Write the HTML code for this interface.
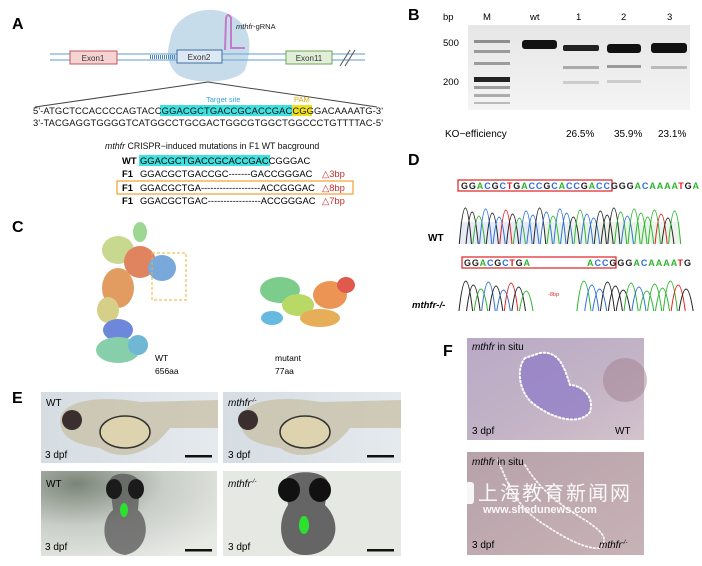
<!DOCTYPE html>
<html><head><meta charset="utf-8"><style>
html,body{margin:0;padding:0;background:#fff;}
svg{display:block;font-family:"Liberation Sans",Arial,sans-serif;}
</style></head><body>
<svg id="s" width="702" height="566" viewBox="0 0 702 566" xmlns="http://www.w3.org/2000/svg">
<defs>
<linearGradient id="gel" x1="0" y1="0" x2="0" y2="1"><stop offset="0" stop-color="#e6e6e6"/><stop offset="1" stop-color="#f4f4f4"/></linearGradient>
<linearGradient id="fish" x1="0" y1="0" x2="1" y2="0"><stop offset="0" stop-color="#d5dde3"/><stop offset="1" stop-color="#e5eaee"/></linearGradient>
<radialGradient id="dark" cx="0.2" cy="0.15" r="1"><stop offset="0" stop-color="#7a8577"/><stop offset="0.5" stop-color="#c9cec8"/><stop offset="1" stop-color="#e8eae6"/></radialGradient>
<linearGradient id="ish1" x1="0" y1="0" x2="1" y2="1"><stop offset="0" stop-color="#b9a9c6"/><stop offset="0.6" stop-color="#c4b4c6"/><stop offset="1" stop-color="#d3c3cb"/></linearGradient>
<linearGradient id="ish2" x1="0" y1="0" x2="1" y2="1"><stop offset="0" stop-color="#b8a2aa"/><stop offset="1" stop-color="#c7b2b7"/></linearGradient>
</defs>

<!-- Panel A -->
<text x="12" y="29" font-size="16" font-weight="bold">A</text>
<path d="M170 40 C175 10 215 2 235 18 C255 30 250 55 245 70 C235 85 185 85 175 72 C165 60 168 50 170 40Z" fill="#c6dcea"/>
<line x1="50" y1="54" x2="365" y2="54" stroke="#7fb0d6" stroke-width="1.3"/>
<line x1="50" y1="60" x2="365" y2="60" stroke="#7fb0d6" stroke-width="1.3"/>
<line x1="150" y1="57" x2="175" y2="57" stroke="#4a86c0" stroke-width="4" stroke-dasharray="1 1"/>
<rect x="70" y="51" width="47" height="13" fill="#f6d3d3" stroke="#c75656"/>
<text x="93" y="61" font-size="8" text-anchor="middle" fill="#333">Exon1</text>
<rect x="177" y="50" width="45" height="13" fill="#dde8f4" stroke="#3d6fa3"/>
<text x="199" y="60" font-size="8" text-anchor="middle" fill="#333">Exon2</text>
<rect x="286" y="51" width="46" height="13" fill="#e1efd9" stroke="#6ea650"/>
<text x="309" y="61" font-size="8" text-anchor="middle" fill="#333">Exon11</text>
<path d="M225 50 L226 18 Q228 12 231 18 L231 48 L245 48" fill="none" stroke="#c57ac8" stroke-width="2"/>
<text x="236" y="29" font-size="7.5" fill="#222"><tspan font-style="italic">mthfr</tspan>-gRNA</text>
<line x1="340" y1="66" x2="350" y2="50" stroke="#555"/><line x1="345" y1="66" x2="355" y2="50" stroke="#555"/>
<line x1="208" y1="82" x2="35" y2="107" stroke="#444"/><line x1="208" y1="82" x2="377" y2="107" stroke="#444"/>
<text x="206" y="102" font-size="7.5" fill="#3aa6d8">Target site</text>
<text x="294" y="102" font-size="7.5" fill="#e0a800">PAM</text>
<rect x="160" y="105" width="133" height="11" fill="#3ee0e0"/>
<rect x="292" y="105" width="20" height="11" fill="#f0e020"/>
<text x="33" y="114" font-size="9.4" fill="#111" textLength="350">5'-ATGCTCCACCCCAGTACCGGACGCTGACCGCACCGACCGGGACAAAATG-3'</text>
<text x="33" y="126" font-size="9.4" fill="#111" textLength="350">3'-TACGAGGTGGGGTCATGGCCTGCGACTGGCGTGGCTGGCCCTGTTTTAC-5'</text>
<text x="105" y="149" font-size="8.8" fill="#111"><tspan font-style="italic">mthfr</tspan> CRISPR−induced mutations in F1 WT bacground</text>
<rect x="139" y="155" width="131" height="11" fill="#3ee0e0"/>
<text x="122" y="164" font-size="9.4" font-weight="bold">WT</text>
<text x="140" y="164" font-size="9.4">GGACGCTGACCGCACCGACCGGGAC</text>
<text x="122" y="177" font-size="9.4" font-weight="bold">F1</text><text x="140" y="177" font-size="9.4">GGACGCTGACCGC-------GACCGGGAC</text><text x="322" y="177" font-size="9.4" fill="#c83030">△3bp</text>
<rect x="117" y="181" width="236" height="13" fill="none" stroke="#f0a030" stroke-width="1.2"/>
<text x="122" y="191" font-size="9.4" font-weight="bold">F1</text><text x="140" y="191" font-size="9.4">GGACGCTGA-------------------ACCGGGAC</text><text x="322" y="191" font-size="9.4" fill="#c83030">△8bp</text>
<text x="122" y="204" font-size="9.4" font-weight="bold">F1</text><text x="140" y="204" font-size="9.4">GGACGCTGAC-----------------ACCGGGAC</text><text x="322" y="204" font-size="9.4" fill="#c83030">△7bp</text>

<!-- Panel B -->
<text x="408" y="20" font-size="16" font-weight="bold">B</text>
<text x="443" y="20" font-size="9.5">bp</text>
<text x="483" y="20" font-size="9.5">M</text>
<text x="530" y="20" font-size="9.5">wt</text>
<text x="576" y="20" font-size="9.5">1</text>
<text x="621" y="20" font-size="9.5">2</text>
<text x="667" y="20" font-size="9.5">3</text>
<rect x="468" y="25" width="222" height="85" fill="url(#gel)"/>
<text x="443" y="46" font-size="9.5">500</text>
<text x="443" y="85" font-size="9.5">200</text>
<g fill="#666">
<rect x="474" y="40" width="36" height="3" opacity=".7"/><rect x="474" y="50" width="36" height="3" opacity=".6"/><rect x="474" y="62" width="36" height="3" opacity=".6"/><rect x="474" y="77" width="36" height="5" fill="#222"/><rect x="474" y="86" width="36" height="3" opacity=".6"/><rect x="474" y="94" width="36" height="3" opacity=".5"/><rect x="474" y="102" width="36" height="2" opacity=".4"/>
</g>
<rect x="522" y="40" width="35" height="9" rx="3" fill="#111"/>
<rect x="563" y="45" width="36" height="6" rx="2" fill="#222"/><rect x="563" y="66" width="36" height="3" fill="#aaa"/><rect x="563" y="81" width="36" height="3" fill="#ccc"/>
<rect x="607" y="44" width="34" height="9" rx="3" fill="#111"/><rect x="607" y="65" width="34" height="3" fill="#999"/><rect x="607" y="80" width="34" height="3" fill="#ccc"/>
<rect x="651" y="43" width="36" height="10" rx="3" fill="#111"/><rect x="651" y="66" width="36" height="3" fill="#bbb"/>
<text x="445" y="137" font-size="10">KO−efficiency</text>
<text x="566" y="137" font-size="10">26.5%</text><text x="614" y="137" font-size="10">35.9%</text><text x="658" y="137" font-size="10">23.1%</text>

<!-- Panel D -->
<text x="408" y="165" font-size="16" font-weight="bold">D</text>
<rect x="458" y="180" width="154" height="11" fill="none" stroke="#e02020" stroke-width="1.2"/>
<text id="seq1" x="461" y="189" font-size="9" font-weight="bold" textLength="238" lengthAdjust="spacing"></text>
<rect x="462" y="257" width="154" height="11" fill="none" stroke="#e02020" stroke-width="1.2"/>
<text id="seq2a" x="464" y="266" font-size="9" font-weight="bold" textLength="66" lengthAdjust="spacing"></text>
<text id="seq2b" x="587" y="266" font-size="9" font-weight="bold" textLength="104" lengthAdjust="spacing"></text>
<rect x="460" y="222" width="80" height="22" fill="#d0d8f0" opacity=".5"/>
<rect x="545" y="222" width="135" height="22" fill="#d8e8d8" opacity=".5"/>
<g id="chrom"></g>
<text x="428" y="241" font-size="10" font-weight="bold">WT</text>
<text x="412" y="308" font-size="9.5" font-weight="bold" font-style="italic">mthfr-/-</text>
<text x="548" y="296" font-size="5.5" fill="#e03030">-8bp</text>

<!-- Panel C -->
<text x="12" y="232" font-size="16" font-weight="bold">C</text>
<g opacity=".75">
<ellipse cx="140" cy="232" rx="7" ry="10" fill="#7ccc70"/>
<ellipse cx="118" cy="250" rx="16" ry="14" fill="#b7cc6a"/>
<ellipse cx="140" cy="262" rx="16" ry="16" fill="#d65a2a"/>
<ellipse cx="162" cy="268" rx="14" ry="13" fill="#4d8bd0"/>
<ellipse cx="118" cy="288" rx="16" ry="20" fill="#d97b2e"/>
<ellipse cx="108" cy="310" rx="11" ry="13" fill="#c8c060"/>
<ellipse cx="118" cy="330" rx="15" ry="11" fill="#3d5fd0"/>
<ellipse cx="118" cy="350" rx="22" ry="13" fill="#5fc090"/>
<ellipse cx="138" cy="345" rx="10" ry="10" fill="#40a0c8"/>
</g>
<rect x="152" y="253" width="34" height="47" fill="none" stroke="#f0b030" stroke-dasharray="3 2"/>
<text x="155" y="361" font-size="8.5">WT</text><text x="155" y="374" font-size="8.5">656aa</text>
<g opacity=".8">
<ellipse cx="280" cy="290" rx="20" ry="13" fill="#5cc070"/>
<ellipse cx="298" cy="305" rx="16" ry="11" fill="#a8d040"/>
<ellipse cx="330" cy="295" rx="17" ry="14" fill="#e87a2a"/>
<ellipse cx="346" cy="285" rx="9" ry="8" fill="#d83020"/>
<ellipse cx="320" cy="318" rx="20" ry="9" fill="#e09a30"/>
<ellipse cx="272" cy="318" rx="11" ry="7" fill="#40a8d8"/>
</g>
<text x="275" y="361" font-size="8.5">mutant</text><text x="275" y="374" font-size="8.5">77aa</text>

<!-- Panel E -->
<text x="12" y="403" font-size="16" font-weight="bold">E</text>
<rect x="41" y="392" width="177" height="71" fill="url(#fish)"/>
<path d="M60 420 C62 400 100 395 140 402 L218 400 L218 428 L170 428 C150 455 120 462 100 448 C80 445 60 440 60 420Z" fill="#c9c2aa" opacity=".8"/>
<ellipse cx="125" cy="432" rx="25" ry="16" fill="#ddd3ae" stroke="#333" stroke-width="1.5"/>
<circle cx="72" cy="420" r="10" fill="#3a2e2e"/>
<text x="46" y="406" font-size="10">WT</text><text x="45" y="458" font-size="10">3 dpf</text>
<rect x="185" y="455" width="27" height="2.5" fill="#111"/>
<rect x="223" y="392" width="178" height="71" fill="url(#fish)"/>
<path d="M240 420 C242 400 280 395 320 402 L401 400 L401 428 L350 428 C330 455 300 462 280 448 C260 445 240 440 240 420Z" fill="#c9c2aa" opacity=".8"/>
<ellipse cx="305" cy="432" rx="25" ry="16" fill="#ddd3ae" stroke="#333" stroke-width="1.5"/>
<circle cx="248" cy="420" r="10" fill="#3a2e2e"/>
<text x="228" y="406" font-size="10" font-style="italic">mthfr<tspan font-size="6" dy="-4">-/-</tspan></text><text x="228" y="458" font-size="10">3 dpf</text>
<rect x="367" y="455" width="27" height="2.5" fill="#111"/>
<rect x="41" y="471" width="176" height="85" fill="url(#dark)"/>
<path d="M110 485 C105 470 140 470 140 485 L138 510 C150 520 150 550 125 555 C100 552 100 520 113 510Z" fill="#555" opacity=".75"/>
<ellipse cx="114" cy="489" rx="8" ry="10" fill="#1b1b1b"/><ellipse cx="136" cy="489" rx="8" ry="10" fill="#1b1b1b"/>
<ellipse cx="124" cy="510" rx="4" ry="7" fill="#2ee02e"/>
<text x="46" y="487" font-size="10">WT</text><text x="45" y="550" font-size="10">3 dpf</text>
<rect x="185" y="549" width="27" height="2.5" fill="#111"/>
<rect x="223" y="471" width="178" height="85" fill="#e6e8e4"/>
<path d="M285 485 C280 468 330 468 328 485 L325 505 C345 525 335 555 305 555 C280 555 275 525 288 505Z" fill="#444" opacity=".8"/>
<ellipse cx="289" cy="490" rx="11" ry="12" fill="#111"/><ellipse cx="320" cy="490" rx="11" ry="12" fill="#111"/>
<ellipse cx="304" cy="525" rx="5" ry="9" fill="#2ee02e"/>
<text x="228" y="487" font-size="10" font-style="italic">mthfr<tspan font-size="6" dy="-4">-/-</tspan></text><text x="228" y="550" font-size="10">3 dpf</text>
<rect x="367" y="549" width="27" height="2.5" fill="#111"/>

<!-- Panel F -->
<text x="443" y="356" font-size="16" font-weight="bold">F</text>
<rect x="467" y="338" width="177" height="102" fill="url(#ish1)"/>
<ellipse cx="625" cy="380" rx="22" ry="22" fill="#a08090" opacity=".5"/>
<path d="M525 358 C515 370 520 395 535 405 C555 420 580 425 590 412 C595 395 580 385 570 385 C565 370 560 350 540 353Z" fill="#8b78c8" opacity=".7"/>
<path d="M525 358 C515 370 520 395 535 405 C555 420 580 425 590 412 C595 395 580 385 570 385 C565 370 560 350 540 353Z" fill="none" stroke="#fff" stroke-width="2" stroke-dasharray="1.5 2.5" stroke-linecap="round"/>
<text x="472" y="350" font-size="10"><tspan font-style="italic">mthfr</tspan> in situ</text>
<text x="472" y="434" font-size="10">3 dpf</text><text x="615" y="434" font-size="10">WT</text>
<rect x="467" y="452" width="177" height="103" fill="url(#ish2)"/>
<path d="M498 460 C510 490 520 510 545 525 C560 535 585 550 600 548 M525 465 C540 490 560 505 585 520 C600 530 610 538 600 548" fill="none" stroke="#fff" stroke-width="1.8" stroke-dasharray="1.5 2.5" stroke-linecap="round" opacity=".85"/>
<text x="472" y="465" font-size="10"><tspan font-style="italic">mthfr</tspan> in situ</text>
<text x="472" y="548" font-size="10">3 dpf</text><text x="599" y="548" font-size="10" font-style="italic">mthfr<tspan font-size="6" dy="-4">-/-</tspan></text>
<rect x="462" y="482" width="12" height="22" rx="3" fill="#fff" opacity=".9"/>
<text x="478" y="500" font-size="20" fill="#fff" font-family="'Liberation Sans','Noto Sans CJK SC',sans-serif" opacity=".92" letter-spacing="2">上海教育新闻网</text>
<text x="483" y="513" font-size="11" font-weight="bold" fill="#fff" opacity=".92">www.shedunews.com</text>
</svg>
<script>
var col={G:"#222",A:"#2bb52b",C:"#2e6fd8",T:"#e02020"};
function seq(id,s){var t=document.getElementById(id);var h="";for(var i=0;i<s.length;i++){var c=s[i];h+='<tspan fill="'+col[c]+'">'+c+'</tspan>';}t.innerHTML=h;}
seq("seq1","GGACGCTGACCGCACCGACCGGGACAAAATGA");
seq("seq2a","GGACGCTGA");
seq("seq2b","ACCGGGACAAAATG");
var g=document.getElementById("chrom"),ns="http://www.w3.org/2000/svg";
function peaks(s,x0,x1,base,top){var w=(x1-x0)/s.length;for(var i=0;i<s.length;i++){var x=x0+i*w,h=top+((i*37)%11);var p=document.createElementNS(ns,"path");p.setAttribute("d","M"+(x-w*0.4)+","+base+" Q"+(x+w/2)+","+(2*h-base)+" "+(x+w*1.4)+","+base);p.setAttribute("fill","none");p.setAttribute("stroke",col[s[i]]);p.setAttribute("stroke-width","1");g.appendChild(p);}}
peaks("GGACGCTGACCGCACCGACCGGGACAAAATGA",462,678,244,208);
peaks("GGACGCTGA",462,530,311,281);
peaks("ACCGGGACAAAATG",580,690,311,281);
</script>
</body></html>
